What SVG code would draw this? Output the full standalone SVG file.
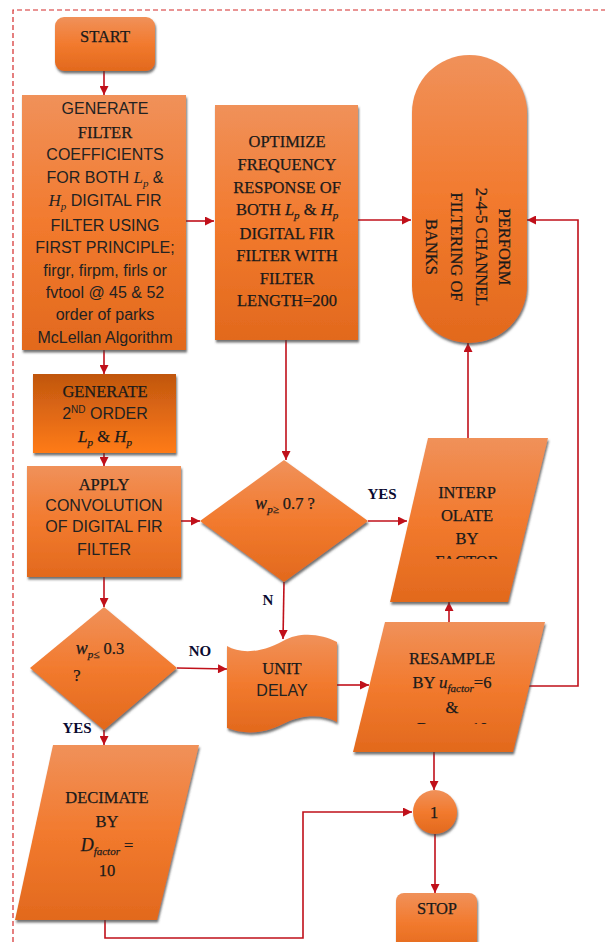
<svg xmlns="http://www.w3.org/2000/svg" width="605" height="942" viewBox="0 0 605 942">
<style>
.sh{fill:url(#og);filter:url(#ds)}
.sh2{fill:url(#og2);filter:url(#ds)}
.c{fill:none;stroke:#C0101A;stroke-width:1.6}
.se{font-family:"Liberation Serif","DejaVu Serif",serif;font-size:16.5px;fill:#1a1a1a;stroke:#1a1a1a;stroke-width:0.25;text-anchor:middle}
.sa{font-family:"Liberation Sans",Arial,sans-serif;font-size:16px;fill:#222;text-anchor:middle}
.it{font-family:"Liberation Serif","DejaVu Serif",serif;font-style:italic}
.lb{font-family:"Liberation Serif","DejaVu Serif",serif;font-weight:bold;font-size:15px;fill:#0a0a30;text-anchor:middle}
</style>
<defs>
<linearGradient id="og" x1="0" y1="0" x2="0" y2="1">
<stop offset="0" stop-color="#F0915A"/><stop offset="0.5" stop-color="#F27A2E"/><stop offset="1" stop-color="#E2691D"/>
</linearGradient>
<linearGradient id="og2" x1="0" y1="0" x2="0" y2="1">
<stop offset="0" stop-color="#C0560F"/><stop offset="1" stop-color="#FF7B18"/>
</linearGradient>
<filter id="ds" x="-10%" y="-10%" width="125%" height="125%">
<feDropShadow dx="1" dy="2.5" stdDeviation="1" flood-color="#404040" flood-opacity="0.75"/>
</filter>
<marker id="ah" viewBox="0 0 10 10" refX="10" refY="5" markerWidth="10" markerHeight="9" markerUnits="userSpaceOnUse" orient="auto">
<path d="M0,0 L10,5 L0,10 Z" fill="#C0101A"/>
</marker>
<clipPath id="cpI"><rect x="380" y="430" width="180" height="129"/></clipPath>
<clipPath id="cpR"><rect x="340" y="610" width="220" height="114"/></clipPath>
</defs>
<rect width="605" height="942" fill="#fff"/>
<path d="M13,942 V10 H605" fill="none" stroke="#D42A2A" stroke-width="1.2" stroke-dasharray="5,3"/>

<g id="connectors">
<path class="c" d="M104,71 V95" marker-end="url(#ah)"/>
<path class="c" d="M186,221 H214" marker-end="url(#ah)"/>
<path class="c" d="M358,220 H411" marker-end="url(#ah)"/>
<path class="c" d="M104,350 V374" marker-end="url(#ah)"/>
<path class="c" d="M104,453 V466" marker-end="url(#ah)"/>
<path class="c" d="M181,521 H200" marker-end="url(#ah)"/>
<path class="c" d="M286,340 V460" marker-end="url(#ah)"/>
<path class="c" d="M368,521 H407" marker-end="url(#ah)"/>
<path class="c" d="M468,438 V343" marker-end="url(#ah)"/>
<path class="c" d="M449,622 V602" marker-end="url(#ah)"/>
<path class="c" d="M529,686 H578 V220 H527" marker-end="url(#ah)"/>
<path class="c" d="M284,582 L283,639" marker-end="url(#ah)"/>
<path class="c" d="M177,668 L227,669" marker-end="url(#ah)"/>
<path class="c" d="M337,685 H369" marker-end="url(#ah)"/>
<path class="c" d="M104,577 V607" marker-end="url(#ah)"/>
<path class="c" d="M104,730 V745" marker-end="url(#ah)"/>
<path class="c" d="M434,752 V790" marker-end="url(#ah)"/>
<path class="c" d="M435,834 V893" marker-end="url(#ah)"/>
<path class="c" d="M105,920 V938 H303 V812 H412" marker-end="url(#ah)"/>
<text class="lb" x="382" y="499">YES</text>
<text class="lb" x="200" y="656">NO</text>
<text class="lb" x="268" y="605">N</text>
<text class="lb" x="77" y="733">YES</text>
</g>

<g id="start">
<rect class="sh" x="55" y="17" width="100" height="54" rx="9"/>
<text class="se" x="105" y="42">START</text>
</g>

<g id="generate">
<rect class="sh" x="22" y="95" width="164" height="255"/>
<text class="sa" x="105" y="114">GENERATE</text>
<text class="se" x="105" y="138">FILTER</text>
<text class="sa" x="105" y="160">COEFFICIENTS</text>
<text class="sa" x="105" y="183">FOR BOTH<tspan class="it" font-size="17"> L</tspan><tspan class="it" font-size="11" dy="4">p</tspan><tspan dy="-4"> &amp;</tspan></text>
<text class="sa" x="105" y="206"><tspan class="it" font-size="17">H</tspan><tspan class="it" font-size="11" dy="4">p</tspan><tspan dy="-4"> DIGITAL FIR</tspan></text>
<text class="sa" x="105" y="231">FILTER USING</text>
<text class="sa" x="105" y="253">FIRST PRINCIPLE;</text>
<text class="sa" x="105" y="276">firgr, firpm, firls or</text>
<text class="sa" x="105" y="298">fvtool @ 45 &amp; 52</text>
<text class="sa" x="105" y="320">order of parks</text>
<text class="sa" x="105" y="343">McLellan Algorithm</text>
</g>

<g id="optimize">
<rect class="sh" x="215" y="105" width="143" height="235"/>
<text class="se" x="287" y="147">OPTIMIZE</text>
<text class="se" x="287" y="170">FREQUENCY</text>
<text class="se" x="287" y="193">RESPONSE OF</text>
<text class="se" x="287" y="215">BOTH <tspan class="it">L</tspan><tspan class="it" font-size="11" dy="4">p</tspan><tspan dy="-4"> &amp; </tspan><tspan class="it">H</tspan><tspan class="it" font-size="11" dy="4">p</tspan></text>
<text class="se" x="287" y="239">DIGITAL FIR</text>
<text class="se" x="287" y="261">FILTER WITH</text>
<text class="se" x="287" y="284">FILTER</text>
<text class="se" x="287" y="306">LENGTH=200</text>
</g>

<g id="perform">
<rect class="sh" x="412" y="55" width="115" height="288" rx="57.5"/>
<g transform="translate(469,247) rotate(90)">
<text class="se" font-size="17" x="0" y="-30">PERFORM</text>
<text class="se" font-size="17" x="0" y="-7">2-4-5 CHANNEL</text>
<text class="se" font-size="17" x="0" y="18">FILTERING OF</text>
<text class="se" font-size="17" x="0" y="43">BANKS</text>
</g>
</g>

<g id="generate2">
<rect class="sh2" x="33" y="374" width="143" height="79"/>
<text class="se" x="105" y="397">GENERATE</text>
<text class="sa" x="105" y="419">2<tspan font-size="10" dy="-6">ND</tspan><tspan dy="6"> ORDER</tspan></text>
<text class="se" x="105" y="442"><tspan class="it" font-size="17">L</tspan><tspan class="it" font-size="11" dy="4">p</tspan><tspan dy="-4"> &amp; </tspan><tspan class="it" font-size="17">H</tspan><tspan class="it" font-size="11" dy="4">p</tspan></text>
</g>

<g id="apply">
<rect class="sh" x="27" y="466" width="154" height="111"/>
<text class="se" x="104" y="490">APPLY</text>
<text class="sa" x="104" y="511">CONVOLUTION</text>
<text class="sa" x="104" y="532">OF DIGITAL FIR</text>
<text class="sa" x="104" y="555">FILTER</text>
</g>

<g id="decision1">
<polygon class="sh" points="284,460 368,521 284,582 200,521"/>
<text class="se" x="285" y="509"><tspan class="it" font-size="18">w</tspan><tspan class="it" font-size="11" dy="4">p≥</tspan><tspan dy="-4"> 0.7 ?</tspan></text>
</g>

<g id="interpolate">
<polygon class="sh" points="428,438 548,438 508,602 390,602"/>
<g clip-path="url(#cpI)">
<text class="se" x="467" y="498">INTERP</text>
<text class="se" x="467" y="521">OLATE</text>
<text class="se" x="467" y="544">BY</text>
<text class="se" x="467" y="567">FACTOR</text>
</g>
</g>

<g id="decision2">
<polygon class="sh" points="104,607 177,668 104,730 30,668"/>
<text class="se" x="100" y="654"><tspan class="it" font-size="18">w</tspan><tspan class="it" font-size="11" dy="4">p≤</tspan><tspan dy="-4"> 0.3</tspan></text>
<text class="se" x="77" y="681">?</text>
</g>

<g id="unitdelay">
<path class="sh" d="M227,646 C240,654 262,653 283,641 C300,631 322,634 337,642 V722 C322,714 302,714 283,724 C262,735 242,734 227,728 Z"/>
<text class="se" x="282" y="674">UNIT</text>
<text class="sa" x="282" y="696">DELAY</text>
</g>

<g id="resample">
<polygon class="sh" points="385,622 545,622 513,752 353,752"/>
<g clip-path="url(#cpR)">
<text class="se" x="452" y="664">RESAMPLE</text>
<text class="se" x="452" y="688">BY <tspan class="it" font-size="17">u</tspan><tspan class="it" font-size="11" dy="4">factor</tspan><tspan dy="-4">=6</tspan></text>
<text class="se" x="452" y="713">&amp;</text>
<text class="se" x="452" y="734"><tspan class="it">D</tspan><tspan class="it" font-size="11" dy="4">factor</tspan><tspan dy="-4"> = 10</tspan></text>
</g>
</g>

<g id="connector1">
<circle class="sh" cx="435" cy="812" r="22"/>
<text class="se" x="434" y="818" fill="#5a1500" stroke="#5a1500">1</text>
</g>

<g id="decimate">
<polygon class="sh" points="53,745 199,745 157,920 15,920"/>
<text class="se" x="107" y="803">DECIMATE</text>
<text class="se" x="107" y="827">BY</text>
<text class="se" x="107" y="851"><tspan class="it" font-size="18">D</tspan><tspan class="it" font-size="11" dy="4">factor</tspan><tspan dy="-4"> =</tspan></text>
<text class="se" x="107" y="876">10</text>
</g>

<g id="stop">
<rect class="sh" x="396" y="893" width="81" height="60" rx="8"/>
<text class="se" x="437" y="914">STOP</text>
</g>
</svg>
